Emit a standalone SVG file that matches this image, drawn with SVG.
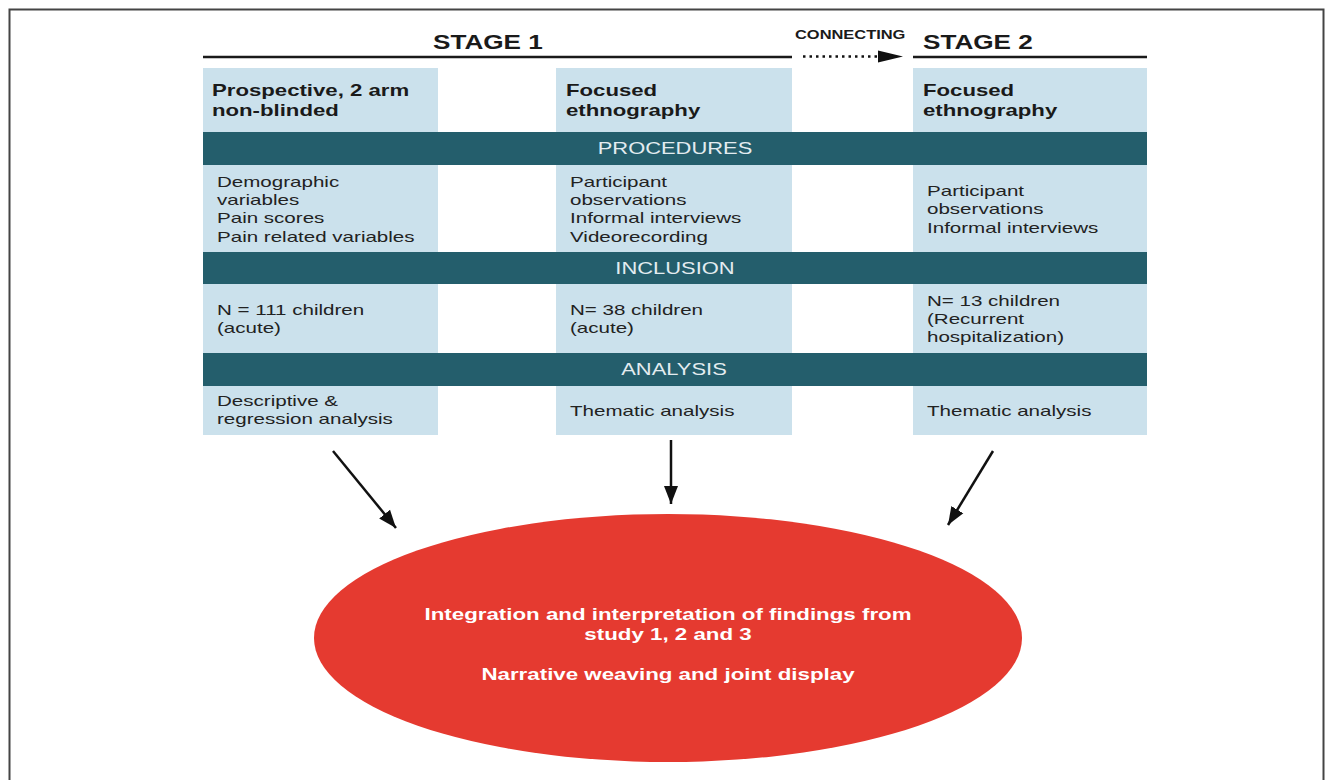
<svg xmlns="http://www.w3.org/2000/svg" width="1333" height="780" viewBox="0 0 1333 780">
<style>
.box{fill:#cbe1ec}
.bar{fill:#245e6c}
.t{font-family:"Liberation Sans",Arial,Helvetica,sans-serif;font-size:15px;fill:#222}
.b{font-weight:bold;font-size:16.2px;fill:#1a1a1a}
.st{font-family:"Liberation Sans",Arial,sans-serif;font-weight:bold;font-size:19.5px;fill:#1a1a1a}
.bt{font-family:"Liberation Sans",Arial,sans-serif;font-size:16px;fill:#e3ecf0;text-anchor:middle}
.et{font-family:"Liberation Sans",Arial,sans-serif;font-weight:bold;font-size:16.3px;fill:#fff;text-anchor:middle}
.conn{stroke:#111;stroke-width:2.5;fill:none}
.rule{stroke:#1a1a1a;stroke-width:2.5}
</style>
<defs>
<marker id="ah" markerUnits="userSpaceOnUse" markerWidth="20" markerHeight="16" refX="18" refY="8" orient="auto">
<path d="M0,1 L18,8 L0,15 Z" fill="#111"/>
</marker>
</defs>
<rect x="0" y="0" width="1333" height="780" fill="#fff"/>
<rect x="9.5" y="9.5" width="1314" height="790" fill="none" stroke="#444" stroke-width="2"/>

<g id="stage-header">
<line class="rule" x1="203" y1="57" x2="792" y2="57"/>
<line class="rule" x1="913" y1="57" x2="1147" y2="57"/>
<g transform="translate(433,0) scale(1.34,1)"><text class="st" x="0" y="49">STAGE 1</text></g>
<g transform="translate(923,0) scale(1.34,1)"><text class="st" x="0" y="49">STAGE 2</text></g>
<g transform="translate(795,0) scale(1.37,1)"><text class="st" style="font-size:12px" x="0" y="39">CONNECTING</text></g>
<line x1="803" y1="56.5" x2="879" y2="56.5" stroke="#111" stroke-width="2.5" stroke-dasharray="2.5 4"/>
<path d="M878,50.5 L903,56.5 L878,62.5 Z" fill="#111"/>
</g>

<g id="col1">
<rect class="box" x="203" y="68" width="235" height="367"/>
</g>
<g id="col2">
<rect class="box" x="556" y="68" width="236" height="367"/>
</g>
<g id="col3">
<rect class="box" x="913" y="68" width="234" height="367"/>
</g>

<g id="bar-procedures">
<rect class="bar" x="203" y="132" width="944" height="33"/>
<g transform="translate(675,0) scale(1.37,1)"><text class="bt" x="0" y="154">PROCEDURES</text></g>
</g>
<g id="bar-inclusion">
<rect class="bar" x="203" y="252" width="944" height="32"/>
<g transform="translate(675,0) scale(1.37,1)"><text class="bt" x="0" y="274">INCLUSION</text></g>
</g>
<g id="bar-analysis">
<rect class="bar" x="203" y="353" width="944" height="33"/>
<g transform="translate(674,0) scale(1.37,1)"><text class="bt" x="0" y="375">ANALYSIS</text></g>
</g>

<g id="col1-text">
<g transform="translate(212,0) scale(1.37,1)">
<text class="t b" x="0" y="96">Prospective, 2 arm</text>
<text class="t b" x="0" y="116">non-blinded</text>
</g>
<g transform="translate(217,0) scale(1.37,1)">
<text class="t" x="0" y="187">Demographic</text>
<text class="t" x="0" y="205">variables</text>
<text class="t" x="0" y="223">Pain scores</text>
<text class="t" x="0" y="242">Pain related variables</text>
<text class="t" x="0" y="315">N = 111 children</text>
<text class="t" x="0" y="333">(acute)</text>
<text class="t" x="0" y="406">Descriptive &amp;</text>
<text class="t" x="0" y="424">regression analysis</text>
</g>
</g>

<g id="col2-text">
<g transform="translate(566,0) scale(1.37,1)">
<text class="t b" x="0" y="96">Focused</text>
<text class="t b" x="0" y="116">ethnography</text>
</g>
<g transform="translate(570,0) scale(1.37,1)">
<text class="t" x="0" y="187">Participant</text>
<text class="t" x="0" y="205">observations</text>
<text class="t" x="0" y="223">Informal interviews</text>
<text class="t" x="0" y="242">Videorecording</text>
<text class="t" x="0" y="315">N= 38 children</text>
<text class="t" x="0" y="333">(acute)</text>
<text class="t" x="0" y="416">Thematic analysis</text>
</g>
</g>

<g id="col3-text">
<g transform="translate(923,0) scale(1.37,1)">
<text class="t b" x="0" y="96">Focused</text>
<text class="t b" x="0" y="116">ethnography</text>
</g>
<g transform="translate(927,0) scale(1.37,1)">
<text class="t" x="0" y="196">Participant</text>
<text class="t" x="0" y="214">observations</text>
<text class="t" x="0" y="233">Informal interviews</text>
<text class="t" x="0" y="306">N= 13 children</text>
<text class="t" x="0" y="324">(Recurrent</text>
<text class="t" x="0" y="342">hospitalization)</text>
<text class="t" x="0" y="416">Thematic analysis</text>
</g>
</g>

<g id="connectors">
<line class="conn" x1="333" y1="451" x2="396" y2="528" marker-end="url(#ah)"/>
<line class="conn" x1="671" y1="440" x2="671" y2="504" marker-end="url(#ah)"/>
<line class="conn" x1="993" y1="451" x2="948" y2="525" marker-end="url(#ah)"/>
</g>

<g id="integration">
<ellipse cx="668" cy="638" rx="354" ry="124" fill="#e53a30"/>
<g transform="translate(668,0) scale(1.37,1)">
<text class="et" x="0" y="620">Integration and interpretation of findings from</text>
<text class="et" x="0" y="640">study 1, 2 and 3</text>
<text class="et" x="0" y="680">Narrative weaving and joint display</text>
</g>
</g>
</svg>
